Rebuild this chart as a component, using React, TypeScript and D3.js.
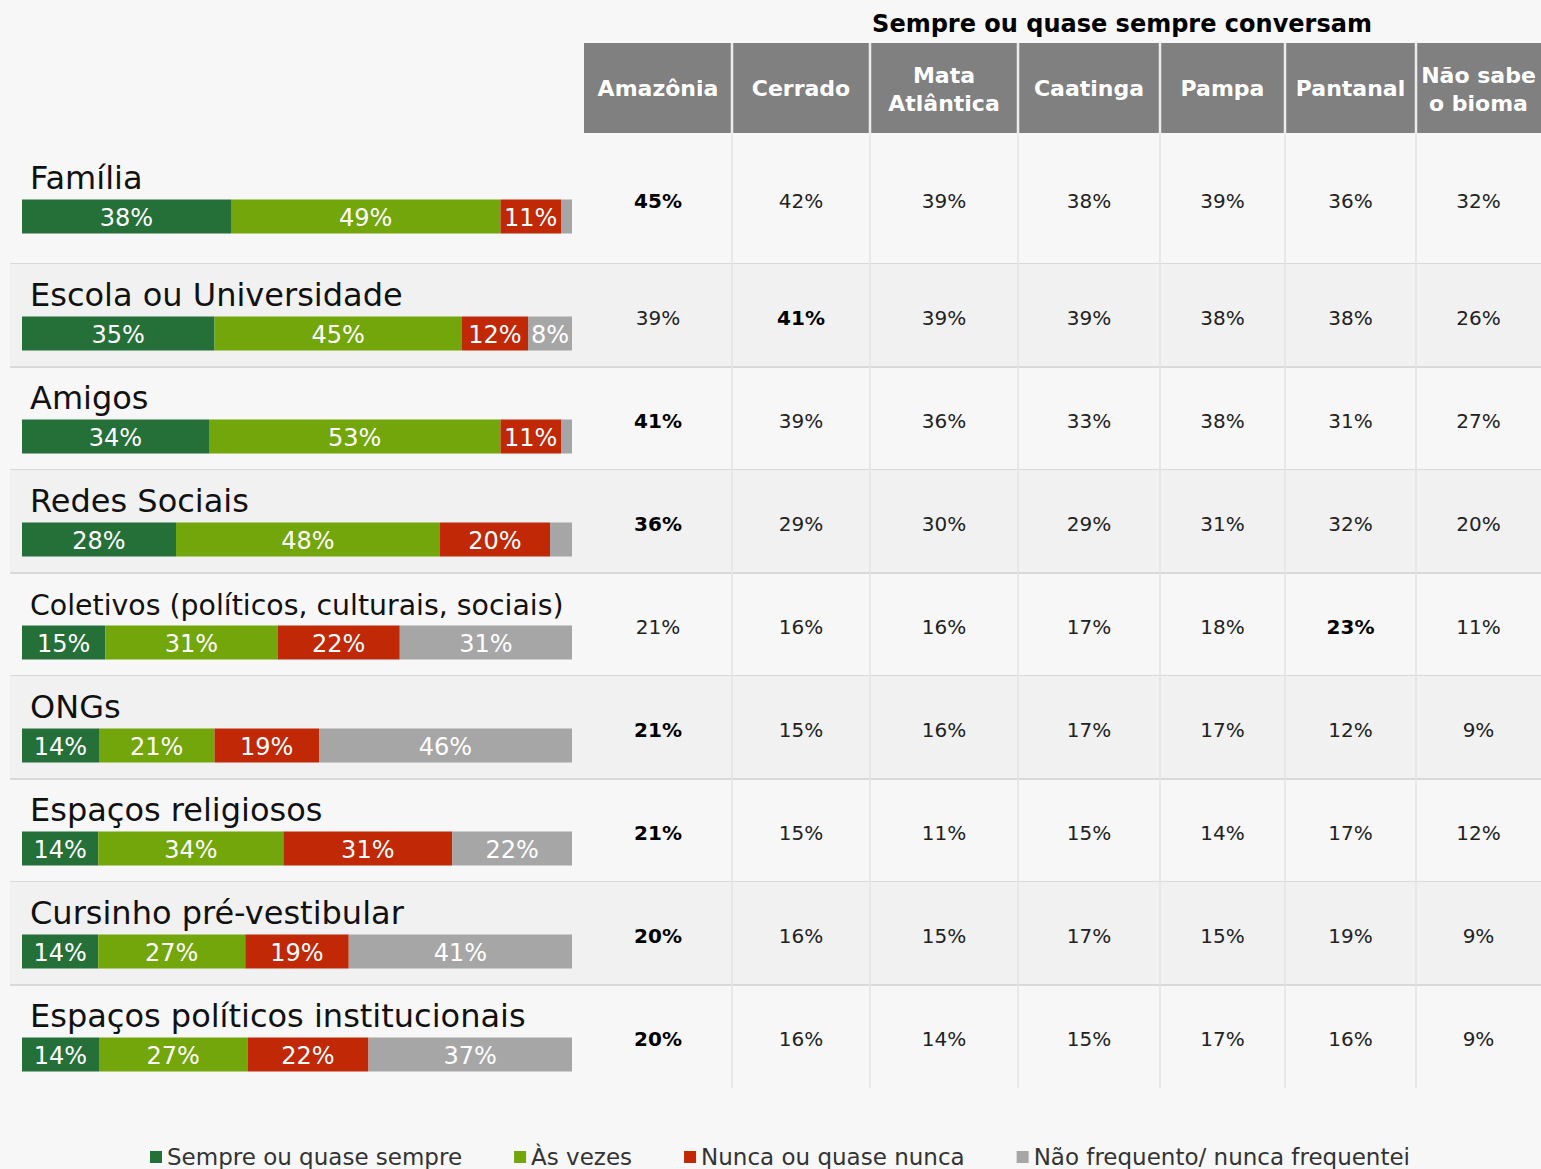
import React from "react";
import * as d3 from "d3";

// ---------- data ----------
const categories = [
  "Família",
  "Escola ou Universidade",
  "Amigos",
  "Redes Sociais",
  "Coletivos (políticos, culturais, sociais)",
  "ONGs",
  "Espaços religiosos",
  "Cursinho pré-vestibular",
  "Espaços políticos institucionais",
];

const seriesNames = [
  "Sempre ou quase sempre",
  "Às vezes",
  "Nunca ou quase nunca",
  "Não frequento/ nunca frequentei",
];
const sempre = [38, 35, 34, 28, 15, 14, 14, 14, 14];
const asVezes = [49, 45, 53, 48, 31, 21, 34, 27, 27];
const nunca = [11, 12, 11, 20, 22, 19, 31, 19, 22];
const naoFrequento = [2, 8, 2, 4, 31, 46, 22, 41, 37];

const tableTitle = "Sempre ou quase sempre conversam";
const biomes = [
  ["Amazônia"],
  ["Cerrado"],
  ["Mata", "Atlântica"],
  ["Caatinga"],
  ["Pampa"],
  ["Pantanal"],
  ["Não sabe", "o bioma"],
];
const amazonia = [45, 39, 41, 36, 21, 21, 21, 20, 20];
const cerrado = [42, 41, 39, 29, 16, 15, 15, 16, 16];
const mataAtlantica = [39, 39, 36, 30, 16, 16, 11, 15, 14];
const caatinga = [38, 39, 33, 29, 17, 17, 15, 17, 15];
const pampa = [39, 38, 38, 31, 18, 17, 14, 15, 17];
const pantanal = [36, 38, 31, 32, 23, 12, 17, 19, 16];
const naoSabe = [32, 26, 27, 20, 11, 9, 12, 9, 9];

// ---------- layout / style ----------
const W = 1541;
const H = 1169;
const FONT = "'DejaVu Sans', Verdana, sans-serif";
const colors = ["#256f39", "#72a60a", "#c02806", "#a6a6a6"];
const colWeights = [148, 138, 148, 142, 125, 131, 125];
const tableLeft = 584;
const headerTop = 43;
const headerBottom = 133;
const firstRowTop = 161;
const bodyBottom = 1088;
const bandLeft = 10;
const barLeft = 22;
const barRight = 572;
const labelX = 30;

let _ctx: CanvasRenderingContext2D | null = null;
function measure(text: string, font: string) {
  if (!_ctx) _ctx = document.createElement("canvas").getContext("2d");
  if (!_ctx) return text.length * 10;
  _ctx.font = font;
  return _ctx.measureText(text).width;
}

export default function App() {
  const valueCols = [amazonia, cerrado, mataAtlantica, caatinga, pampa, pantanal, naoSabe];
  const seriesVals = [sempre, asVezes, nunca, naoFrequento];

  const rows = categories.map((c, i) => {
    const o: any = { cat: c };
    seriesNames.forEach((s, k) => (o[s] = seriesVals[k][i]));
    return o;
  });
  const stacked = d3.stack<any>().keys(seriesNames)(rows);

  const y = d3.scaleBand<string>().domain(categories).range([firstRowTop, bodyBottom]);
  const bw = y.bandwidth();
  const rowTop = (c: string, i: number) => (i === 0 ? headerBottom : (y(c) as number));
  const rowBottom = (c: string) => (y(c) as number) + bw;
  const rowCenter = (c: string, i: number) => (rowTop(c, i) + rowBottom(c)) / 2;

  const cum = [0, ...d3.cumsum(colWeights)];
  const xCol = d3.scaleLinear().domain([0, cum[cum.length - 1]]).range([tableLeft, W]);
  const colEdges = cum.map((v) => xCol(v));

  const color = d3.scaleOrdinal<string, string>().domain(seriesNames).range(colors);

  // legend layout
  const legFs = 23;
  const legFont = `${legFs}px ${FONT}`;
  const sq = 12;
  const sqGap = 5;
  const itemGap = 52;
  const widths = seriesNames.map((s) => sq + sqGap + measure(s, legFont));
  const totalLeg = d3.sum(widths) + itemGap * (seriesNames.length - 1);
  const legCenter = 780;
  let lx = legCenter - totalLeg / 2;
  const legX = widths.map((w) => {
    const v = lx;
    lx += w + itemGap;
    return v;
  });

  const labelMax = barRight - labelX - 8;
  const labelFs = 32;

  return (
    <>
      <style>{`body{margin:0;} svg text{font-family:${FONT};}`}</style>
      <svg width={W} height={H} style={{ display: "block" }}>
        <rect x={0} y={0} width={W} height={H} fill="#f7f7f7" />

        {/* row bands */}
        {categories.map((c, i) => (
          <g key={"band" + i}>
            {i % 2 === 1 && (
              <rect x={bandLeft} y={rowTop(c, i)} width={W - bandLeft} height={rowBottom(c) - rowTop(c, i)} fill="#f1f1f1" />
            )}
            {i < categories.length - 1 && (
              <line x1={bandLeft} x2={W} y1={rowBottom(c)} y2={rowBottom(c)} stroke="#d9d9d9" strokeWidth={2} />
            )}
          </g>
        ))}

        {/* body column lines */}
        {colEdges.slice(1, -1).map((x, j) => (
          <line key={"cl" + j} x1={x} x2={x} y1={headerBottom} y2={bodyBottom} stroke="#e3e3e3" strokeWidth={1.5} />
        ))}

        {/* header */}
        <text x={1122} y={32} textAnchor="middle" fontSize={24} fontWeight="bold" fill="#000">
          {tableTitle}
        </text>
        <rect x={tableLeft} y={headerTop} width={W - tableLeft} height={headerBottom - headerTop} fill="#808080" />
        {colEdges.slice(1, -1).map((x, j) => (
          <line key={"hl" + j} x1={x} x2={x} y1={headerTop} y2={headerBottom} stroke="#ececec" strokeWidth={2.5} />
        ))}
        {biomes.map((lines, j) => {
          const cx = (colEdges[j] + colEdges[j + 1]) / 2;
          const cy = (headerTop + headerBottom) / 2;
          return (
            <text key={"h" + j} x={cx} textAnchor="middle" fontSize={22} fontWeight="bold" fill="#fff">
              {lines.map((ln, k) => (
                <tspan key={k} x={cx} y={lines.length === 1 ? cy + 8 : cy - 5 + k * 28}>
                  {ln}
                </tspan>
              ))}
            </text>
          );
        })}

        {/* table values */}
        {categories.map((c, i) => {
          const vals = valueCols.map((col) => col[i]);
          const mx = d3.max(vals) as number;
          return vals.map((v, j) => (
            <text
              key={"v" + i + "-" + j}
              x={(colEdges[j] + colEdges[j + 1]) / 2}
              y={rowCenter(c, i) + 9}
              textAnchor="middle"
              fontSize={20}
              fontWeight={v === mx ? "bold" : "normal"}
              fill={v === mx ? "#000" : "#222"}
            >
              {v}%
            </text>
          ));
        })}

        {/* left: labels + stacked bars */}
        {categories.map((c, i) => {
          const total = d3.sum(seriesVals, (s) => s[i]);
          const xb = d3.scaleLinear().domain([0, total]).range([barLeft, barRight]);
          const cy = rowCenter(c, i);
          const barTop = cy + 1;
          const fs = Math.min(labelFs, (labelFs * labelMax) / measure(c, `${labelFs}px ${FONT}`));
          return (
            <g key={"bar" + i}>
              <text x={labelX} y={cy - 10} fontSize={fs} fill="#111">
                {c}
              </text>
              {stacked.map((layer) => {
                const d = layer[i];
                const x0 = xb(d[0]);
                const x1 = xb(d[1]);
                const v = d[1] - d[0];
                return (
                  <g key={layer.key}>
                    <rect x={x0} y={barTop} width={Math.max(0, x1 - x0)} height={34} fill={color(layer.key)} />
                    {v >= 5 && (
                      <text x={(x0 + x1) / 2} y={barTop + 26} textAnchor="middle" fontSize={24} fill="#fff">
                        {v}%
                      </text>
                    )}
                  </g>
                );
              })}
            </g>
          );
        })}

        {/* legend */}
        {seriesNames.map((s, k) => (
          <g key={"leg" + k} transform={`translate(${legX[k]},0)`}>
            <rect x={0} y={1151} width={sq} height={sq} fill={color(s)} />
            <text x={sq + sqGap} y={1165} fontSize={legFs} fill="#333">
              {s}
            </text>
          </g>
        ))}
      </svg>
    </>
  );
}
